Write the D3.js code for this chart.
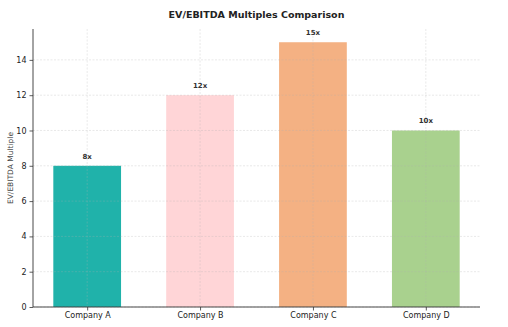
<!DOCTYPE html>
<html>
<head>
<meta charset="utf-8">
<script src="https://cdn.jsdelivr.net/npm/d3@7"></script>
<style>
  html, body { margin: 0; padding: 0; background: #fff; }
  svg { display: block; font-family: "DejaVu Sans", sans-serif; }
</style>
</head>
<body>
<svg id="chart" width="508" height="327"></svg>
<script>
// EV/EBITDA multiples per company
const companies = ["Company A", "Company B", "Company C", "Company D"];
const multiples = [8, 12, 15, 10];
const barColors = ["#20B2AA", "#FFD5D7", "#F4B183", "#A9D18E"];
const yTicks = [0, 2, 4, 6, 8, 10, 12, 14];

const svg = d3.select("#chart");
const margin = { left: 33, right: 28, top: 29, bottom: 20 };
const W = 508, H = 327;
const plotL = margin.left, plotR = W - margin.right;
const plotT = margin.top, plotB = H - margin.bottom;

// Bars sit at integer positions, domain padded like a categorical bar plot
const x = d3.scaleLinear().domain([-0.48, companies.length - 1 + 0.48]).range([plotL, plotR]);
const y = d3.scaleLinear().domain([0, 15.75]).range([plotB, plotT]);
const barW = 0.6;

// Bars
svg.append("g").selectAll("rect")
  .data(multiples)
  .join("rect")
  .attr("x", (d, i) => x(i - barW / 2))
  .attr("width", (d, i) => x(i + barW / 2) - x(i - barW / 2))
  .attr("y", d => y(d))
  .attr("height", d => y(0) - y(d))
  .attr("fill", (d, i) => barColors[i]);

// Dashed grid drawn above the bars
const grid = svg.append("g").attr("stroke", "#b0b0b0").attr("stroke-opacity", 0.4)
  .attr("stroke-width", 0.7).attr("stroke-dasharray", "2,1.5");
grid.selectAll("line.h").data(yTicks).join("line").attr("class", "h")
  .attr("x1", plotL).attr("x2", plotR).attr("y1", d => y(d)).attr("y2", d => y(d));
grid.selectAll("line.v").data(companies).join("line").attr("class", "v")
  .attr("x1", (d, i) => x(i)).attr("x2", (d, i) => x(i)).attr("y1", plotT).attr("y2", plotB);

// Value labels
svg.append("g").selectAll("text")
  .data(multiples)
  .join("text")
  .attr("x", (d, i) => x(i))
  .attr("y", d => y(d + 0.4))
  .attr("text-anchor", "middle")
  .attr("font-size", 7)
  .attr("font-weight", "bold")
  .attr("fill", "#333")
  .text(d => d + "x");

// Axes
const yAxis = d3.axisLeft(y).tickValues(yTicks).tickSize(3.5).tickPadding(3);
const gy = svg.append("g").attr("transform", `translate(${plotL},0)`).call(yAxis);
gy.select(".domain").remove();
gy.append("line").attr("x1", 0).attr("x2", 0).attr("y1", plotT).attr("y2", plotB)
  .attr("stroke", "#333").attr("stroke-width", 0.9);

const xAxis = d3.axisBottom(x).tickValues(d3.range(companies.length))
  .tickFormat(i => companies[i]).tickSize(3.5).tickPadding(2);
const gx = svg.append("g").attr("transform", `translate(0,${plotB})`).call(xAxis);
gx.select(".domain").remove();
gx.append("line").attr("x1", plotL).attr("x2", plotR).attr("y1", 0).attr("y2", 0)
  .attr("stroke", "#333").attr("stroke-width", 0.9);

[gx, gy].forEach(g => {
  g.selectAll(".tick line").attr("stroke", "#333").attr("stroke-width", 0.8);
  g.selectAll(".tick text").attr("font-size", 8).attr("fill", "#222")
    .attr("font-family", "DejaVu Sans, sans-serif");
});

// Y axis title
svg.append("text")
  .attr("transform", `translate(13,${(plotT + plotB) / 2}) rotate(-90)`)
  .attr("text-anchor", "middle")
  .attr("font-size", 7.5)
  .attr("fill", "#444")
  .text("EV/EBITDA Multiple");

// Chart title
svg.append("text")
  .attr("x", (plotL + plotR) / 2)
  .attr("y", 18)
  .attr("text-anchor", "middle")
  .attr("font-size", 9.5)
  .attr("font-weight", "bold")
  .attr("fill", "#222")
  .text("EV/EBITDA Multiples Comparison");
</script>
</body>
</html>
